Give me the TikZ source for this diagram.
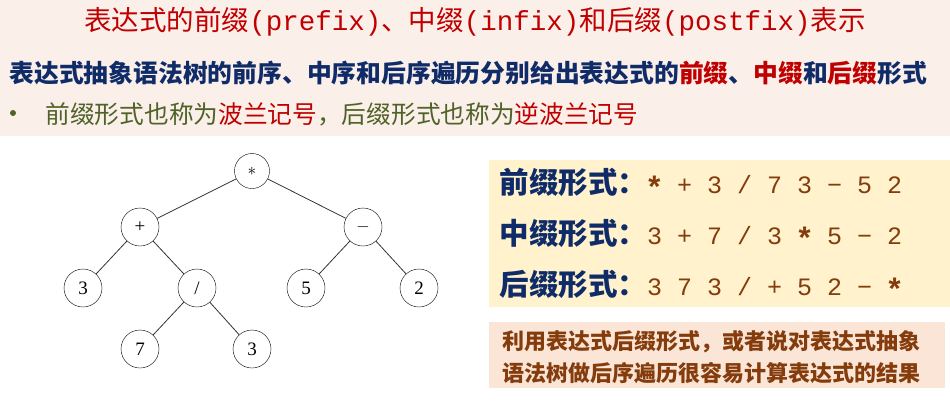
\documentclass[tikz,border=0pt]{standalone}
\usepackage{fontspec}
\setmainfont{Liberation Serif}
\setmonofont{Liberation Mono}
\newfontfamily\cjk{Noto Sans CJK SC}
\usetikzlibrary{positioning}

\definecolor{bandbg}{RGB}{251,239,234}
\definecolor{titlered}{RGB}{192,0,0}
\definecolor{navy}{RGB}{16,44,104}
\definecolor{olive}{RGB}{79,98,40}
\definecolor{rust}{RGB}{132,60,12}
\definecolor{cream}{RGB}{255,242,204}
\definecolor{peach}{RGB}{251,229,214}

\newcommand{\redtxt}[1]{\textcolor{titlered}{#1}}
\newcommand{\bigast}{\makebox[15pt][c]{\raisebox{-5pt}{\fontsize{31}{31}\selectfont\bfseries *}}}

\begin{document}
\begin{tikzpicture}[x=1pt, y=-1pt,
    tnode/.style={shape=circle, draw, inner sep=0pt, minimum size=38pt, font=\fontsize{19}{20}\selectfont},
    edge/.style={line width=0.8pt, draw=black!80},
    form/.style={anchor=west, font=\fontsize{29.5}{30}\selectfont\cjk\bfseries, text=navy}]
        \useasboundingbox (0,0) rectangle (950,400);
        \fill[bandbg] (0,0) rectangle (950,136);
        \node (title) at (475,22) [font=\fontsize{27.5}{30}\selectfont\cjk, text=titlered] {表达式的前缀\texttt{(prefix)}、中缀\texttt{(infix)}和后缀\texttt{(postfix)}表示};
        \node (intro) at (6,73) [anchor=west, font=\fontsize{24.8}{26}\selectfont\cjk\bfseries, text=navy] {表达式抽象语法树的前序、中序和后序遍历分别给出表达式的\redtxt{前缀}、\redtxt{中缀}和\redtxt{后缀}形式};
        \node (dot) at (13,113) [shape=circle, fill=olive, inner sep=0pt, minimum size=6pt] {};
        \node (note) at (42,114) [anchor=west, font=\fontsize{24.7}{26}\selectfont\cjk, text=olive] {前缀形式也称为\redtxt{波兰记号}，后缀形式也称为\redtxt{逆波兰记号}};
        % expression tree
        \node (mul) at (252,171) [tnode, minimum size=35pt] {$*$};
        \node (add) at (140,227) [tnode] {+};
        \node (sub) at (363,227) [tnode] {$-$};
        \node (three) at (83,288) [tnode] {3};
        \node (div) at (197,288) [tnode] {/};
        \node (five) at (306,288) [tnode] {5};
        \node (two) at (419,288) [tnode] {2};
        \node (seven) at (140,349) [tnode] {7};
        \node (threeb) at (252,349) [tnode] {3};
        \draw[edge] (mul) -- (add);
        \draw[edge] (mul) -- (sub);
        \draw[edge] (add) -- (three);
        \draw[edge] (add) -- (div);
        \draw[edge] (div) -- (seven);
        \draw[edge] (div) -- (threeb);
        \draw[edge] (sub) -- (five);
        \draw[edge] (sub) -- (two);
        % the three forms
        \fill[cream] (489,160) rectangle (950,307);
        \node (pre) at (496,183) [form] {前缀形式：{\mdseries\ttfamily\fontsize{25}{26}\selectfont\color{rust}\bigast{} + 3 / 7 3 − 5 2}};
        \node (in) at (496,234) [form] {中缀形式：{\mdseries\ttfamily\fontsize{25}{26}\selectfont\color{rust}3 + 7 / 3 \bigast{} 5 − 2}};
        \node (post) at (496,285) [form] {后缀形式：{\mdseries\ttfamily\fontsize{25}{26}\selectfont\color{rust}3 7 3 / + 5 2 − \bigast}};
        % remark
        \fill[peach] (489,322) rectangle (945,388);
        \node (tip) at (499,342) [anchor=west, font=\fontsize{22}{24}\selectfont\cjk\bfseries, text=rust] {利用表达式后缀形式，或者说对表达式抽象};
        \node (tipb) at (499,373) [anchor=west, font=\fontsize{22}{24}\selectfont\cjk\bfseries, text=rust] {语法树做后序遍历很容易计算表达式的结果};
\end{tikzpicture}
\end{document}
